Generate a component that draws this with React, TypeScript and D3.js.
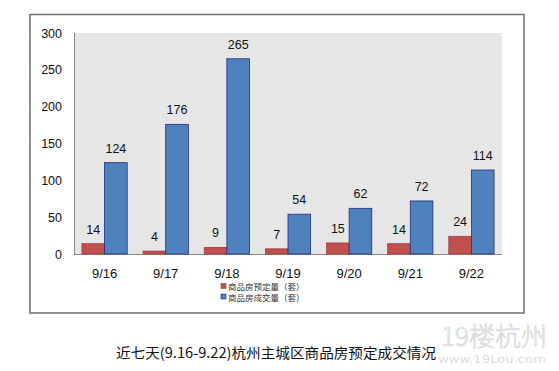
import { useRef, useEffect } from 'react'
import * as d3 from 'd3'

const days = ['9/16', '9/17', '9/18', '9/19', '9/20', '9/21', '9/22']
const reserved = [14, 4, 9, 7, 15, 14, 24]
const sold = [124, 176, 265, 54, 62, 72, 114]
const yTicks = [0, 50, 100, 150, 200, 250, 300]
const seriesNames = ['商品房预定量（套）', '商品房成交量（套）']
const title = '近七天(9.16-9.22)杭州主城区商品房预定成交情况'

const App = () => {
  const ref = useRef<SVGSVGElement>(null)

  useEffect(() => {
    const width = 559, height = 371
    const plot = { left: 74, right: 502, top: 33, bottom: 254 }
    const svg = d3.select(ref.current)
    svg.selectAll('*').remove()
    svg.attr('width', width).attr('height', height)

    svg.append('rect').attr('width', width).attr('height', height).attr('fill', '#fff')

    // outer frame
    svg.append('rect')
      .attr('x', 30).attr('y', 14.5)
      .attr('width', 494).attr('height', 298.5)
      .attr('fill', '#fff').attr('stroke', '#6e6e6e').attr('stroke-width', 1.5)

    // plot background
    svg.append('rect')
      .attr('x', plot.left).attr('y', plot.top)
      .attr('width', plot.right - plot.left).attr('height', plot.bottom - plot.top)
      .attr('fill', '#e6e6e6')

    const x = d3.scaleBand().domain(days).range([plot.left, plot.right]).paddingInner(0.26).paddingOuter(0.13)
    const y = d3.scaleLinear().domain([0, 300]).range([plot.bottom, plot.top])
    const bw = x.bandwidth() / 2

    const num = 'Liberation Sans, DejaVu Sans, sans-serif'

    // axis lines
    svg.append('line').attr('x1', plot.left + 0.5).attr('x2', plot.left + 0.5)
      .attr('y1', plot.top).attr('y2', plot.bottom).attr('stroke', '#888')
    svg.append('line').attr('x1', plot.left).attr('x2', plot.right)
      .attr('y1', plot.bottom + 0.5).attr('y2', plot.bottom + 0.5).attr('stroke', '#888')

    svg.append('g').selectAll('text').data(yTicks).enter().append('text')
      .attr('x', 62).attr('y', d => y(d) + 4.5)
      .attr('text-anchor', 'end').attr('font-family', num).attr('font-size', 12.5).attr('fill', '#111')
      .text(d => d)

    svg.append('g').selectAll('text').data(days).enter().append('text')
      .attr('x', d => (x(d) as number) + bw).attr('y', 278)
      .attr('text-anchor', 'middle').attr('font-family', num).attr('font-size', 13).attr('fill', '#111')
      .text(d => d)

    const series = [
      { values: reserved, fill: '#c0504d', stroke: '#a04040', offset: 0 },
      { values: sold, fill: '#4f81bd', stroke: '#1f2f80', offset: bw }
    ]

    series.forEach(s => {
      const g = svg.append('g')
      g.selectAll('rect').data(s.values).enter().append('rect')
        .attr('x', (d, i) => (x(days[i]) as number) + s.offset)
        .attr('y', d => y(d))
        .attr('width', bw)
        .attr('height', d => y(0) - y(d))
        .attr('fill', s.fill).attr('stroke', s.stroke).attr('stroke-width', 0.8)
      g.selectAll('text').data(s.values).enter().append('text')
        .attr('x', (d, i) => (x(days[i]) as number) + s.offset + bw / 2)
        .attr('y', d => y(d) - 10)
        .attr('text-anchor', 'middle').attr('font-family', num).attr('font-size', 12.5).attr('fill', '#111')
        .text(d => d)
    })

    // legend
    const legend = svg.append('g')
    seriesNames.forEach((name, i) => {
      legend.append('rect')
        .attr('x', 221).attr('y', 283.5 + i * 10.5)
        .attr('width', 5).attr('height', 5)
        .attr('fill', series[i].fill).attr('stroke', series[i].stroke).attr('stroke-width', 0.6)
      legend.append('text')
        .attr('x', 228).attr('y', 290 + i * 10.5)
        .attr('font-family', 'Noto Sans CJK SC, sans-serif').attr('font-size', 8.5).attr('fill', '#333')
        .text(name)
    })

    // watermark
    svg.append('text').attr('x', 547).attr('y', 346).attr('text-anchor', 'end')
      .attr('font-family', 'Noto Sans CJK SC, sans-serif').attr('font-size', 26).attr('font-weight', 300)
      .attr('fill', '#f3f3f3').attr('stroke', '#d6d6d6').attr('stroke-width', 0.7)
      .text('19楼杭州')
    svg.append('text').attr('x', 546).attr('y', 363).attr('text-anchor', 'end')
      .attr('font-family', 'DejaVu Sans, sans-serif').attr('font-size', 10).attr('fill', '#dcdcdc')
      .attr('textLength', 108).attr('lengthAdjust', 'spacingAndGlyphs')
      .text('www.19Lou.com')

    svg.append('text').attr('x', 116).attr('y', 358)
      .attr('font-family', 'Noto Sans CJK SC, sans-serif').attr('font-size', 14).attr('fill', '#111')
      .attr('textLength', 320).attr('lengthAdjust', 'spacingAndGlyphs')
      .text(title)
  }, [])

  return <svg ref={ref} style={{ position: 'absolute', left: 0, top: 0 }}></svg>
}

export default App
